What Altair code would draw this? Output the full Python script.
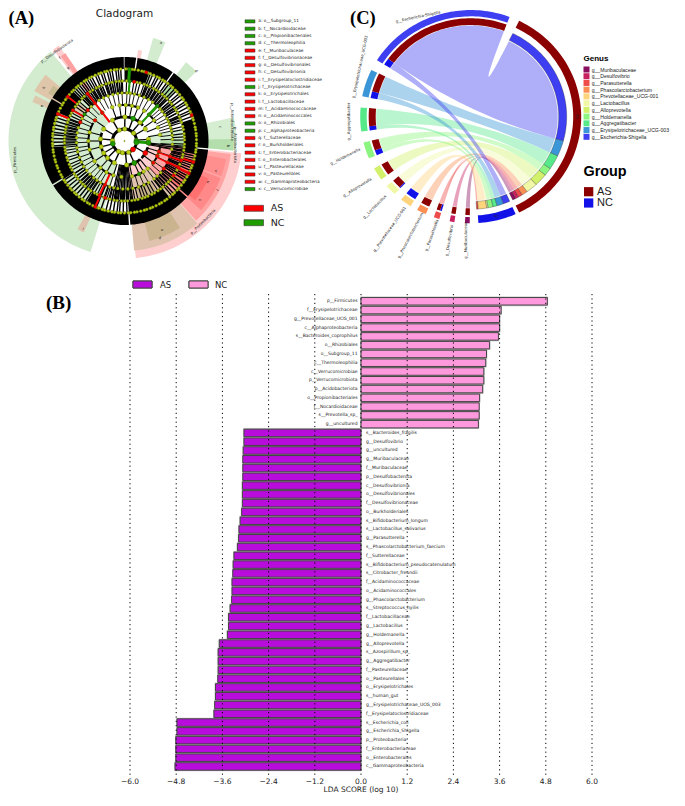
import math
import altair as alt
import pandas as pd

# ---------- (B) LDA values ----------
nc_names = ["p__Firmicutes","f__Erysipelotrichaceae","g__Prevotellaceae_UCG_001","c__Alphaproteobacteria","s__Bacteroides_coprophilus","o__Rhizobiales","o__Subgroup_11","c__Thermoleophilia","c__Verrucomicrobiae","p__Verrucomicrobiota","p__Acidobacteriota","o__Propionibacteriales","f__Nocardioidaceae","s__Prevotella_sp_","g__uncultured"]
nc_values = [4.84,3.64,3.60,3.60,3.57,3.34,3.26,3.24,3.19,3.19,3.16,3.08,3.07,3.07,3.05]
as_names = ["s__Bacteroides_fragilis","g__Desulfovibrio","g__uncultured","g__Muribaculaceae","f__Muribaculaceae","p__Desulfobacterota","c__Desulfovibrionia","o__Desulfovibrionales","f__Desulfovibrionaceae","o__Burkholderiales","s__Bifidobacterium_longum","s__Lactobacillus_salivarius","g__Parasutterella","s__Phascolarctobacterium_faecium","f__Sutterellaceae","s__Bifidobacterium_pseudocatenulatum","s__Citrobacter_freundii","f__Acidaminococcaceae","o__Acidaminococcales","g__Phascolarctobacterium","s__Streptococcus_hyilis","f__Lactobacillaceae","g__Lactobacillus","g__Holdemanella","g__Alloprevotella","s__Azospirillum_sp_","g__Aggregatibacter","f__Pasteurellaceae","o__Pasteurellales","o__Erysipelotrichales","s__human_gut","g__Erysipelotrichaceae_UCG_003","f__Erysipelatoclostridiaceae","s__Escherichia_coli","g__Escherichia_Shigella","p__Proteobacteria","f__Enterobacteriaceae","o__Enterobacterales","c__Gammaproteobacteria"]
as_values = [-3.04,-3.04,-3.06,-3.07,-3.07,-3.07,-3.08,-3.08,-3.08,-3.10,-3.14,-3.17,-3.18,-3.21,-3.30,-3.32,-3.33,-3.35,-3.35,-3.36,-3.40,-3.44,-3.44,-3.47,-3.68,-3.71,-3.71,-3.71,-3.72,-3.78,-3.78,-3.80,-3.82,-4.78,-4.78,-4.81,-4.81,-4.81,-4.83]
lda_ticks = [-6.0,-4.8,-3.6,-2.4,-1.2,0.0,1.2,2.4,3.6,4.8,6.0]

# ---------- (A) cladogram ----------
clade_legend = ["a: o__Subgroup_11","b: f__Nocardioidaceae","c: o__Propionibacteriales","d: c__Thermoleophilia","e: f__Muribaculaceae","f: f__Desulfovibrionaceae","g: o__Desulfovibrionales","h: c__Desulfovibrionia","i: f__Erysipelatoclostridiaceae","j: f__Erysipelotrichaceae","k: o__Erysipelotrichales","l: f__Lactobacillaceae","m: f__Acidaminococcaceae","n: o__Acidaminococcales","o: o__Rhizobiales","p: c__Alphaproteobacteria","q: f__Sutterellaceae","r: o__Burkholderiales","s: f__Enterobacteriaceae","t: o__Enterobacterales","u: f__Pasteurellaceae","v: o__Pasteurellales","w: c__Gammaproteobacteria","x: c__Verrucomicrobiae"]
clade_side = list("NNNNAAAAANAAAANNAAAAAAAN")
L6 = [1,3,6,8,11,14,16,19,21,24,27,29,32,34,37,40,42,45,47,50,53,55,58,60,63,66,68,71,73,76,79,81,84,86,89,92,94,97,99,102,105,107,110,112,115,118,120,123,125,128,131,133,136,138,141,144,146,149,151,154,157,159,162,164,167,170,172,175,177,180,183,185,188,190,193,196,198,201,203,206,209,211,214,216,219,222,224,227,229,232,235,237,240,242,245,248,250,253,255,258,261,263,266,268,271,274,276,279,281,284,287,289,292,294,297,300,302,305,307,310,313,315,318,320,323,326,328,331,333,336,339,341,344,346,349,352,354,357]
L5 = [2,5,9,12,15,19,22,25,29,32,35,39,42,45,49,52,56,59,62,66,69,72,76,79,83,86,89,93,96,99,103,106,109,113,116,119,123,126,130,133,136,140,143,146,150,153,157,160,163,167,170,173,177,180,183,187,190,194,197,200,204,207,210,214,217,221,224,227,231,234,237,241,244,247,251,254,258,261,264,268,271,274,278,281,284,288,291,295,298,301,305,308,311,315,318,322,325,328,332,335,338,342,345,348,352,355,358]
L4 = [3,7,12,18,24,30,36,43,48,52,57,62,66,70,74,78,83,88,94,100,108,116,125,131,137,142,150,156,163,170,176,182,188,193,198,204,210,215,220,226,232,238,244,250,257,262,268,274,280,286,293,298,304,310,316,322,328,334,340,346,352,357]
L3 = [2,12,22,33,43,55,68,80,107,114,127,140,148,156,168,185,198,210,222,236,256,270,284,305,322,340,352]
L2 = [1,21,40,60,86,94,120,156,175,205,225,240,256,275,300,330]
L1 = [1,49,91,97,135,160,190,210,257,335]
inner_nodes = [270,90]
stripes_mid = [21,23,26,28,31,33,36,38,41,44,46,49,51,54,57,59,62,65,67,70,100,102,104,106,108,110,112,114,117,119,121,123,126,128,131,134,137,139,142,176,178,181,184,186,189,192,195,199,203,213,216,219,222,225,228,231,234,237,266,269,272,275,277,280,283,286,289,292,315,317,319,321,323,325,327,329,331,333,336,338,341,343,346,348,350,353,355,357]
stripes_inner = [172,174,176,178,180,182,184,186,188,190,192,95,97,99]
red_nodes = [(6,69),(6,17.6),(5,9.3),(5,322),(4,322),(4,310),(5,300.7),(6,308),(3,305),(4,293),(3,321.6),(6,292),(4,204),(5,204.7),(6,204),(5,198.6),(1,135),(2,120),(3,114.6),(3,107),(4,116.7),(4,108.8),(5,116),(5,109),(6,116.6),(6,107),(3,127),(4,125),(5,125)]
green_nodes = [(1,257),(4,303.7),(2,21),(2,156),(3,156),(1,91),(1,97),(2,94),(6,4),(5,5),(4,43),(3,43)]
red_links = [(4,322,2),(3,322,2),(5,322,2),(6,308,2),(5,300.7,1.5),(6,292,2),(5,204.7,2),(6,204,2),(4,204,2),(5,116,2),(6,116.6,2),(6,107,2),(5,109,2),(4,108.8,1.5),(4,116.7,1.5)]
green_links = [(6,4,3),(5,5,2),(4,43,3),(2,94,3),(3,43,2)]
arcs = [(1,0,360,3),(2,205,290,2.6),(2,330,410,2.6),(2,105,135,2.6),(2,140,170,2.6),(3,240,300,2),(3,355,385,2),(3,40,60,2),(3,100,130,2),(3,150,165,2),(3,195,230,2),(4,235,270,1.5),(4,285,325,1.5),(4,350,390,1.5),(4,35,55,1.5),(4,60,85,1.5),(4,105,130,1.5),(4,150,170,1.5),(4,190,225,1.5),(5,0,360,1.2)]
band_outer = [(0,8),(9,35),(36,95),(96,131),(132,176),(177,238),(239,300),(301,359.5)]
band_mid = [(0,20),(72,100),(142,176),(203,212),(238,265),(293,314)]
wedges = [(197,320.5,24,116,"#d3ebcf"),(96,174.5,24,117.5,"#ffcfcf"),(97,138,36,107,"#ffa3a3"),(111,132,48,103,"#ff8888"),(114,130,60,92,"#ff7070"),(100,110,48,103,"#ff8f8f"),(138.5,175,36,110,"#dfc3ae"),(147.5,166,48,103,"#c9b48f"),(77.7,95,24,112,"#d5edd0"),(89,95,36,109,"#b4deac"),(38,46,60,100,"#d0ebcb"),(39,45,60,84,"#a9dc9f"),(15.5,22.5,60,107,"#d3ebcf"),(8.5,11,82,92,"#ffcfcf"),(322,325.5,60,116,"#ffcfcf"),(323,326,60,106,"#ffa0a0"),(299,310,48,103,"#dfc6aa"),(302,308,60,90,"#c6ba93"),(293,297,60,100,"#dcc8ac"),(204,208,60,100,"#dfc3ae")]
clade_labels = [("p__Firmicutes",15,160,-90),("p__Desulfobacterota",57,51,-35),("p__Actinobacteriota",232,122,90),("p__Acidobacteriota",235,145,90),("p__Proteobacteria",203,222,-45),("a",161,43,20),("d",196,71,42),("c",220,127,90),("b",228,146,90),("v",216,171,107),("u",208,182,113),("t",217,190,120),("s",200,200,125),("o",162,230,170),("h",44,88,-55),("f",60,58,-35),("g",68,68,-35),("e",42,106,-70),("i",83,229,20),("p",160,238,175)]

# ---------- (C) chord ----------
genus = ["g__Muribaculaceae","g__Desulfovibrio","g__Parasutterella","g__Phascolarctobacterium","g__Prevotellaceae_UCG-001","g__Lactobacillus","g__Alloprevotella","g__Holdemanella","g__Aggregatibacter","g__Erysipelotrichaceae_UCG-003","g__Escherichia-Shigella"]
genus_colors = ["#8b0f5f","#c9205f","#ee4c4b","#fa8f55","#fdd47c","#f0f8a5","#d2f06a","#8cf57f","#57e88a","#3a96d6","#3d3ff0"]
gen_start = [180.5,188.5,196.5,204,213,223.5,234,247,262,281,302]
gen_end = [183,191,199.5,209,219,229.5,241,256,275,296,380.6]
nc_share = [0,0,1,0,6,0.8,0,3,2.5,4,4]
as_t0 = [152,150,147.5,144,144,137,129,124,115,105,26]
as_t1 = [154,152,150,147.5,144,144,137,129,124,115,105]
nc_t0 = [0,0,175.5,0,170.3,169.5,0,166.5,164,160,156]
nc_t1 = [0,0,176.5,0,175.5,170.3,0,169.5,166.5,164,160]
chord_label_r = [128,130,129,137,142,134,135,132,122,122,116]
chord_label_th = [182,189.4,197.5,206,214.7,225.7,237,251.7,267.6,295,333]
chord_label_rot = [-90,-80,-70,-62,-55,-45,-32,-27,-90,-78,-12]

# ---------- layout constants ----------
W, H = 669, 786
CX, CY, R = 116.5, 133, 12
CHX, CHY, YS = 462.7, 108.7, 0.965
AS_C, NC_C = "#8b0000", "#1212e8"

def pol(a, r):
    t = math.radians(a)
    return [round(CX + r * math.sin(t), 2), round(CY - r * math.cos(t), 2)]

def cpol(a, r):
    t = math.radians(a)
    return [round(CHX + r * math.sin(t), 2), round(CHY - YS * r * math.cos(t), 2)]

def arc_pts(f, a0, a1, r):
    n = max(2, int(abs(a1 - a0) / 1.5) + 2)
    return [f(a0 + (a1 - a0) * i / (n - 1), r) for i in range(n)]

feats = []
def add(kind, coords, fill="transparent", stroke="transparent", sw=0, fo=1):
    feats.append({"type": "Feature",
                  "geometry": {"type": kind, "coordinates": coords},
                  "properties": {"fill": fill, "stroke": stroke, "sw": sw, "fo": fo}})

def poly(pts, **kw):
    add("Polygon", [pts + [pts[0]]], **kw)

def line(pts, stroke="#000000", sw=1):
    add("LineString", pts, stroke=stroke, sw=sw)

def sector(f, a0, a1, r0, r1, **kw):
    poly(arc_pts(f, a0, a1, r1) + arc_pts(f, a1, a0, r0), **kw)

# frame (keeps the identity projection at 1 unit = 1 pixel)
poly([[0, 0], [W, 0], [W, H], [0, H]], fill="transparent")

# --- cladogram
for a0, a1, r0, r1, c in wedges:
    sector(pol, a0, a1, r0, r1, fill=c)
for a0, a1 in band_outer:
    sector(pol, a0, a1, 6 * R, 7 * R, fill="#000000")
for a0, a1 in band_mid:
    sector(pol, a0, a1, 5 * R, 6 * R, fill="#000000")
for a in L5:
    line([pol(a, 4 * R), pol(a, 5 * R)], sw=1.15)
for a in stripes_mid:
    line([pol(a, 4 * R), pol(a, 6 * R)], sw=1.4)
for a in stripes_inner:
    line([pol(a, 2 * R), pol(a, 5 * R)], sw=1.2)
for lv, lst, w in [(4, L4, .9), (3, L3, 1.1), (2, L2, 1.4)]:
    for a in lst:
        line([pol(a, (lv - 1) * R), pol(a, lv * R)], sw=w)
for lv, a0, a1, w in arcs:
    line(arc_pts(pol, a0, a1, lv * R), sw=w)
for lv, a, w in red_links:
    line([pol(a, (lv - 1) * R), pol(a, lv * R)], stroke="#ff0000", sw=w)
for lv, a, w in green_links:
    line([pol(a, (lv - 1) * R), pol(a, lv * R)], stroke="#1e9c00", sw=w)

# --- clade legend swatches
for i, s in enumerate(clade_side):
    y = 13.4 + 7.29 * i
    poly([[237, y - 1.6], [247, y - 1.6], [247, y + 1.6], [237, y + 1.6]],
         fill="#ff0000" if s == "A" else "#1e9c00", stroke="#333333", sw=.5)
for y, c in [(200.3, "#ff0000"), (214.7, "#1e9c00")]:
    poly([[236, y - 3], [255.5, y - 3], [255.5, y + 3], [236, y + 3]], fill=c, stroke="#333333", sw=.6)

# --- chord ribbons
def ribbon(a0, a1, ra, t0, t1, rt, col, op):
    pts = arc_pts(cpol, a0, a1, ra)
    def quad(p, q):
        c = [CHX, CHY]
        return [[round((1 - u) ** 2 * p[0] + 2 * u * (1 - u) * c[0] + u ** 2 * q[0], 2),
                 round((1 - u) ** 2 * p[1] + 2 * u * (1 - u) * c[1] + u ** 2 * q[1], 2)]
                for u in [i / 24 for i in range(1, 24)]]
    t_pts = arc_pts(cpol, t0, t1, rt)
    poly(pts + quad(pts[-1], t_pts[0]) + t_pts + quad(t_pts[-1], pts[0]), fill=col, fo=op)

for i, c in enumerate(genus_colors):
    s, e, n = gen_start[i], gen_end[i], nc_share[i]
    if as_t1[i] > as_t0[i]:
        ribbon(s + n, e, 94.5, as_t0[i], as_t1[i], 87, c, .42)
for i, c in enumerate(genus_colors):
    s, n = gen_start[i], nc_share[i]
    if n > 0:
        ribbon(s, s + n, 94.5, nc_t0[i], nc_t1[i], 87, c, .42)

# --- chord tracks
sector(cpol, 26, 154, 102.5, 110.5, fill=AS_C)
sector(cpol, 156, 176, 102.5, 110.5, fill=NC_C)
for i, c in enumerate(genus_colors):
    s, e, n = gen_start[i], gen_end[i], nc_share[i]
    sector(cpol, s, e, 104, 110.5, fill=c)
    if n > 0:
        sector(cpol, s, s + n, 95, 102, fill=NC_C)
    if e > s + n:
        sector(cpol, s + n, e, 95, 102, fill=AS_C)
    if as_t1[i] > as_t0[i]:
        sector(cpol, as_t0[i], as_t1[i], 88, 96, fill=c, stroke="#222222", sw=.3)
    if nc_t1[i] > nc_t0[i]:
        sector(cpol, nc_t0[i], nc_t1[i], 88, 96, fill=c, stroke="#222222", sw=.3)

# --- chord legend swatches
for i, c in enumerate(genus_colors):
    y = 61.5 + 6.73 * i
    poly([[575.5, y - 3], [581.5, y - 3], [581.5, y + 3], [575.5, y + 3]], fill=c)
for y, c in [(183.7, AS_C), (195, NC_C)]:
    poly([[576, y - 4.6], [585.3, y - 4.6], [585.3, y + 4.6], [576, y + 4.6]], fill=c)

PROJ = alt.Projection(type="identity")
shapes = alt.Chart(alt.Data(values=feats)).mark_geoshape().encode(
    fill=alt.Fill("properties.fill:N", scale=None),
    stroke=alt.Stroke("properties.stroke:N", scale=None),
    strokeWidth=alt.StrokeWidth("properties.sw:Q", scale=None),
    fillOpacity=alt.FillOpacity("properties.fo:Q", scale=None),
).properties(projection=PROJ)

# --- nodes
def node(p, d, col, edge="#5a6400"):
    return {"lon": p[0], "lat": p[1], "sz": d * d * .785, "col": col, "edge": edge}
YEL = "#b8cf14"
nodes = [node(pol(a, 6 * R), 3.3, YEL) for a in L6] + [node(pol(a, 5 * R), 3.2, YEL) for a in L5]
nodes += [node(pol(a, 4 * R), 3.4, YEL) for a in L4] + [node(pol(a, 3 * R), 4.2, YEL) for a in L3]
nodes += [node(pol(a, 2 * R), 5, YEL) for a in L2] + [node(pol(a, R), 5, YEL) for a in L1]
nodes += [node(pol(a, R), 5.5, YEL) for a in inner_nodes] + [node([CX, CY], 1.5, YEL)]
nodes += [node(pol(a, lv * R), 5.6 if lv < 3 else 3.8, "#ff0000", "#7a0000") for lv, a in red_nodes]
nodes += [node(pol(a, lv * R), 5.6 if lv < 3 else 3.8, "#1e9c00", "#0c4a00") for lv, a in green_nodes]
points = alt.Chart(alt.Data(values=nodes)).mark_circle(opacity=1, strokeWidth=.4).encode(
    longitude="lon:Q", latitude="lat:Q",
    size=alt.Size("sz:Q", scale=None),
    fill=alt.Fill("col:N", scale=None),
    stroke=alt.Stroke("edge:N", scale=None),
).properties(projection=PROJ)

def txt(rows, font, align="center", weight="normal", color="#222222"):
    return alt.Chart(alt.Data(values=rows)).mark_text(
        font=font, align=align, baseline="middle", fontWeight=weight, color=color
    ).encode(
        longitude="lon:Q", latitude="lat:Q", text=alt.Text("t:N"),
        angle=alt.Angle("a:Q", scale=None), size=alt.Size("s:Q", scale=None),
    ).properties(projection=PROJ)

center_rows = [{"lon": x - 8, "lat": y - 8, "t": t, "a": (a + 360) % 360, "s": 3.8} for t, x, y, a in clade_labels]
center_rows += [{"lon": 116.5, "lat": 6, "t": "Cladogram", "a": 0, "s": 10.5}]
for i, g in enumerate(genus):
    p = cpol(chord_label_th[i], chord_label_r[i])
    center_rows.append({"lon": p[0], "lat": p[1], "t": g, "a": (chord_label_rot[i] + 360) % 360, "s": 3.9})
p = cpol(90, 106.5)
center_rows.append({"lon": p[0], "lat": p[1], "t": "AS", "a": 90, "s": 3.6})
p = cpol(166, 106.5)
center_rows.append({"lon": p[0], "lat": p[1], "t": "NC", "a": 14, "s": 3.6})

left_rows = [{"lon": 250.3, "lat": 13.4 + 7.29 * i, "t": t, "a": 0, "s": 4.3} for i, t in enumerate(clade_legend)]
left_rows += [{"lon": 262.7, "lat": 200.3, "t": "AS", "a": 0, "s": 9.5}, {"lon": 262.7, "lat": 214.7, "t": "NC", "a": 0, "s": 9.5}]
sans_rows = [{"lon": 583.7, "lat": 61.5 + 6.73 * i, "t": t, "a": 0, "s": 5.1} for i, t in enumerate(genus)]
sans_rows += [{"lon": 589, "lat": 183.7, "t": "AS", "a": 0, "s": 11}, {"lon": 589, "lat": 195, "t": "NC", "a": 0, "s": 11}]
bold_rows = [{"lon": 575.5, "lat": 50.7, "t": "Genus", "a": 0, "s": 8}, {"lon": 575.5, "lat": 163.7, "t": "Group", "a": 0, "s": 14.4}]
serif_rows = [{"lon": 0.5, "lat": 9.5, "t": "(A)", "a": 0, "s": 18.5}, {"lon": 342, "lat": 9.5, "t": "(C)", "a": 0, "s": 18.5}]

# ---------- (B) chart ----------
rows = [{"name": n, "value": v, "side": "NC", "row": i} for i, (n, v) in enumerate(zip(nc_names, nc_values))]
rows += [{"name": n, "value": v, "side": "AS", "row": i + len(nc_names)} for i, (n, v) in enumerate(zip(as_names, as_values))]
bdf = pd.DataFrame(rows)
bdf["zero"] = 0.0
PX = 38.5
STEP = 8.89
Y0 = 292          # first row, pixels from the top of the view
BOT = 767         # bottom of the dotted grid
x_scale = alt.Scale(domain=[-6 - 122 / PX, 6 + (W - 584) / PX], nice=False, zero=False)
y_scale = alt.Scale(domain=[(H - Y0) / STEP, -Y0 / STEP], nice=False, zero=False)
by = alt.Y("row:Q", scale=y_scale, axis=None)
nox = dict(scale=x_scale, axis=None)
halo = alt.Chart(bdf).mark_bar(orient="horizontal", height=8.2, stroke="#c4c4c4", strokeWidth=1.6, fill="#c4c4c4").encode(
    x=alt.X("value:Q", **nox), x2=alt.X2("zero:Q"), y=by)
bars = alt.Chart(bdf).mark_bar(orient="horizontal", height=7.5, stroke="#444444", strokeWidth=1).encode(
    x=alt.X("value:Q", **nox), x2=alt.X2("zero:Q"), y=by,
    color=alt.Color("side:N", scale=alt.Scale(domain=["AS", "NC"], range=["#b80cdc", "#ff99dd"]), legend=None),
)
tick_df = pd.DataFrame({"t": lda_ticks, "lab": [f"{t:.1f}".replace("-", "\u2212") for t in lda_ticks]})
rules = alt.Chart(tick_df).mark_rule(color="#000000", strokeDash=[1.2, 3.2], strokeWidth=1).encode(
    x=alt.X("t:Q", **nox), y=alt.value(286), y2=alt.value(BOT))
tick_text = alt.Chart(tick_df).mark_text(align="center", baseline="middle", fontSize=7.5, font="DejaVu Sans", color="#222222").encode(
    x=alt.X("t:Q", **nox), y=alt.value(BOT + 7), text="lab:N")
x_title = alt.Chart(pd.DataFrame({"t": ["LDA SCORE (log 10)"]})).mark_text(align="center", baseline="middle", fontSize=7.5, font="DejaVu Sans", color="#222222").encode(
    x=alt.value(353), y=alt.value(BOT + 14.5), text="t:N")
lab_nc = alt.Chart(bdf[bdf.side == "NC"]).mark_text(align="right", baseline="middle", dx=-3.5, fontSize=4.5, font="DejaVu Sans", color="#222222").encode(
    x=alt.X("zero:Q", **nox), y=by, text="name:N")
lab_as = alt.Chart(bdf[bdf.side == "AS"]).mark_text(align="left", baseline="middle", dx=5, fontSize=4.5, font="DejaVu Sans", color="#222222").encode(
    x=alt.X("zero:Q", **nox), y=by, text="name:N")
leg_df = pd.DataFrame({"side": ["AS", "NC"]})
leg_sw = alt.Chart(leg_df).mark_rect(stroke="#444444", strokeWidth=1).encode(
    x=alt.value(125), x2=alt.value(144), y=alt.value(273), y2=alt.value(280), fill=alt.value("#b80cdc"))
leg_sw2 = alt.Chart(leg_df).mark_rect(stroke="#444444", strokeWidth=1).encode(
    x=alt.value(181), x2=alt.value(200), y=alt.value(273), y2=alt.value(280), fill=alt.value("#ff99dd"))
leg_rows = [{"lon": 152, "lat": 276.5, "t": "AS", "a": 0, "s": 8.5}, {"lon": 207, "lat": 276.5, "t": "NC", "a": 0, "s": 8.5}]
serif_rows.append({"lon": 38, "lat": 295, "t": "(B)", "a": 0, "s": 19})

chart = alt.layer(
    shapes, points,
    txt(center_rows, "DejaVu Sans"),
    txt(left_rows + leg_rows, "DejaVu Sans", "left"),
    txt(sans_rows, "Liberation Sans", "left"),
    txt(bold_rows, "Liberation Sans", "left", "bold", "#000000"),
    txt(serif_rows, "Liberation Serif", "left", "bold", "#000000"),
    halo, bars, rules, tick_text, x_title, lab_nc, lab_as, leg_sw, leg_sw2,
).properties(width=W, height=H, padding=0,
             autosize=alt.AutoSizeParams(type="none", contains="padding")).configure_view(stroke=None)
chart.save("out.html", embed_options={"renderer": "svg", "actions": False})
